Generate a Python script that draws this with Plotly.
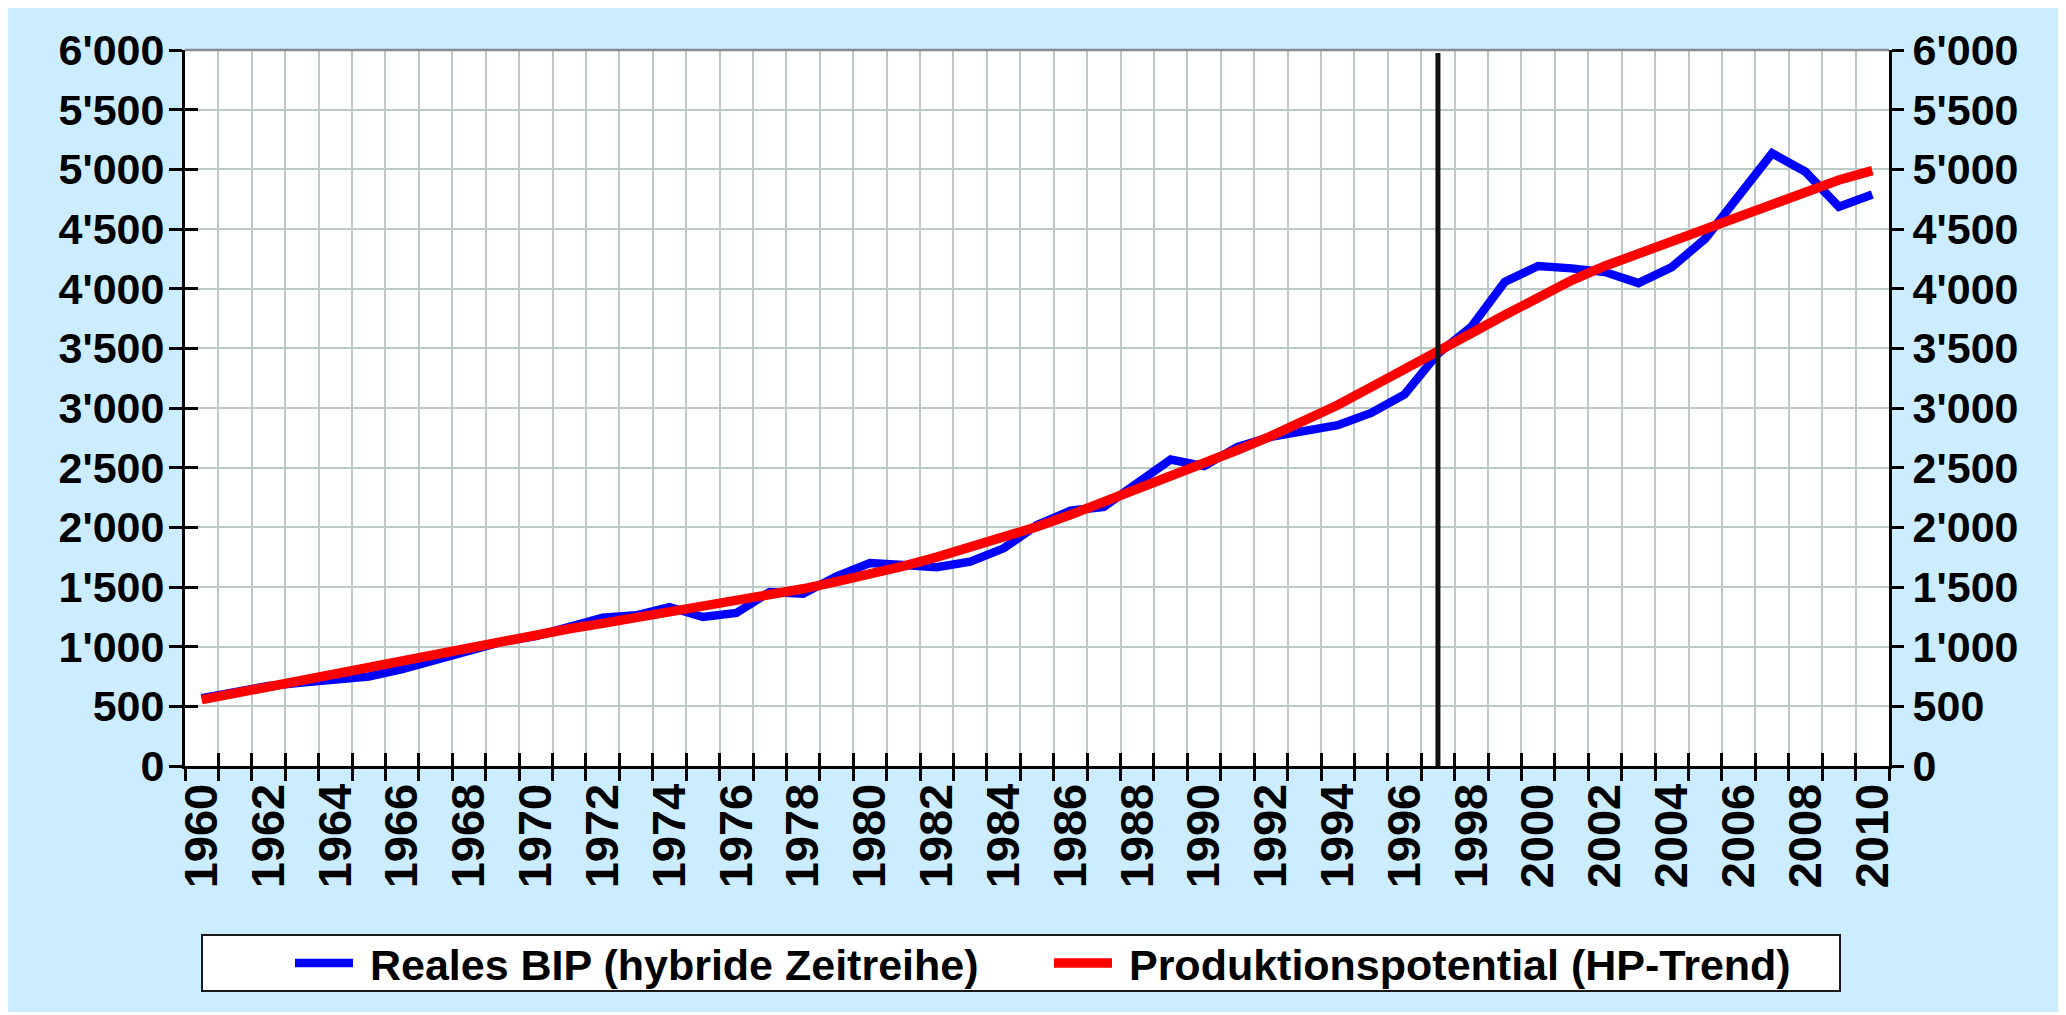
import plotly.graph_objects as go

# ---------------- data ----------------
years = list(range(1960, 2011))
reales_bip = [569, 625, 670, 700, 725, 750, 811, 889, 967, 1042,
              1089, 1167, 1243, 1263, 1332, 1249, 1282, 1458, 1444, 1590,
              1700, 1684, 1665, 1712, 1824, 2019, 2139, 2172, 2367, 2568,
              2513, 2674, 2758, 2814, 2856, 2959, 3113, 3456, 3681, 4056,
              4190, 4170, 4139, 4047, 4181, 4419, 4768, 5134, 4980, 4687, 4790]
hp_trend = [556, 611, 661, 714, 769, 825, 881, 939, 995, 1050,
            1100, 1150, 1195, 1240, 1290, 1335, 1380, 1430, 1485, 1545,
            1606, 1675, 1750, 1830, 1915, 2005, 2105, 2210, 2315, 2425,
            2535, 2648, 2765, 2885, 3025, 3175, 3320, 3470, 3626, 3779,
            3930, 4070, 4190, 4293, 4405, 4517, 4614, 4726, 4827, 4911, 4989]
label_years = years[::2]
tick_labels = [str(y) for y in label_years]
y_ticks = list(range(0, 6001, 500))
marker_year = 1997
series_names = ["Reales BIP (hybride Zeitreihe)", "Produktionspotential (HP-Trend)"]

# ---------------- style ----------------
W, H = 2058, 1004
L, R, T, B = 177, 177, 42, 246
BG = "#CCECFF"
GRID = "#BCC9C6"
FONT = "Liberation Sans, Arial, sans-serif"
boundaries = [y - 0.5 for y in years] + [years[-1] + 0.5]
xr = [boundaries[0], boundaries[-1]]
yr = [0, 6000]

pw, ph = W - L - R, H - T - B
def px_x(p):
    return (p - L) / pw
def px_y(p):
    return (H - B - p) / ph

fig = go.Figure()
fig.add_trace(go.Scatter(x=years, y=reales_bip, mode="lines", name="\u00a0" + series_names[0],
                         line=dict(color="#0000FF", width=8.5)))
fig.add_trace(go.Scatter(x=years, y=hp_trend, mode="lines", name="\u00a0" + series_names[1],
                         line=dict(color="#FF0000", width=9.5)))
# helper traces for secondary axes
fig.add_trace(go.Scatter(x=[years[0]], y=[0], yaxis="y2", mode="markers",
                         marker=dict(opacity=0), showlegend=False, hoverinfo="skip"))
fig.add_trace(go.Scatter(x=[years[0]], y=[0], xaxis="x2", yaxis="y3", mode="markers",
                         marker=dict(opacity=0), showlegend=False, hoverinfo="skip"))

ytickfont = dict(family=FONT, size=43, color="black", weight="bold")
xtickfont = dict(family=FONT, size=47, color="black", weight="bold")

fig.update_layout(
    width=W, height=H,
    margin=dict(l=L, r=R, t=T, b=B, autoexpand=False),
    paper_bgcolor=BG, plot_bgcolor="white",
    separators=".'",
    xaxis=dict(range=xr, tickmode="array", tickvals=label_years, ticktext=tick_labels,
               tickangle=-90, ticks="outside", ticklen=12, tickwidth=3,
               tickcolor="rgba(0,0,0,0)", showgrid=False, zeroline=False,
               ticklabelstandoff=-16,
               showline=True, linecolor="black", linewidth=3, tickfont=xtickfont,
               minor=dict(tickmode="array", tickvals=boundaries, ticks="outside",
                          ticklen=12, tickwidth=3, tickcolor="black",
                          showgrid=True, gridcolor=GRID, gridwidth=1.5)),
    xaxis2=dict(overlaying="x", anchor="y3", side="bottom", range=xr,
                tickmode="array", tickvals=boundaries, ticks="inside", ticklen=13,
                tickwidth=3, tickcolor="black", showticklabels=False,
                showgrid=False, zeroline=False, showline=False),
    yaxis=dict(range=yr, tickmode="array", tickvals=y_ticks, tickformat=",",
               ticks="outside", ticklen=13, tickwidth=3, tickcolor="black",
               ticklabelstandoff=-4,
               showgrid=True, gridcolor=GRID, gridwidth=1.5, zeroline=False,
               showline=True, linecolor="black", linewidth=3, tickfont=ytickfont),
    yaxis2=dict(overlaying="y", side="right", anchor="x", range=yr,
                tickmode="array", tickvals=y_ticks, tickformat=",",
                ticks="outside", ticklen=12, tickwidth=3, tickcolor="black",
                showgrid=False, zeroline=False, showline=True, linecolor="black",
                linewidth=3, tickfont=ytickfont),
    yaxis3=dict(overlaying="y", side="left", anchor="x2", range=yr,
                tickmode="array", tickvals=y_ticks, ticks="inside", ticklen=13,
                tickwidth=3, tickcolor="black", showticklabels=False,
                showgrid=False, zeroline=False, showline=False),
    legend=dict(orientation="h", x=px_x(282), y=px_y(955), xanchor="left",
                yanchor="middle", bgcolor="rgba(0,0,0,0)", borderwidth=0,
                font=dict(family=FONT, size=43, color="black", weight="bold"),
                entrywidth=686, entrywidthmode="pixels", itemwidth=58),
)

shapes = [
    # legend box
    dict(type="rect", xref="paper", yref="paper", x0=px_x(194), x1=px_x(1832),
         y0=px_y(983), y1=px_y(927), fillcolor="white",
         line=dict(color="#1a1a1a", width=2), layer="below"),
    # top border of plot
    dict(type="line", xref="paper", yref="paper", x0=0, x1=1, y0=1, y1=1,
         line=dict(color="#8C8C8C", width=2.5), layer="above"),
    # vertical marker line
    dict(type="line", xref="x", yref="y", x0=marker_year, x1=marker_year, y0=0, y1=5975,
         line=dict(color="#111111", width=5), layer="above"),
]
fig.update_layout(shapes=shapes)

fig.write_html("out.html")
